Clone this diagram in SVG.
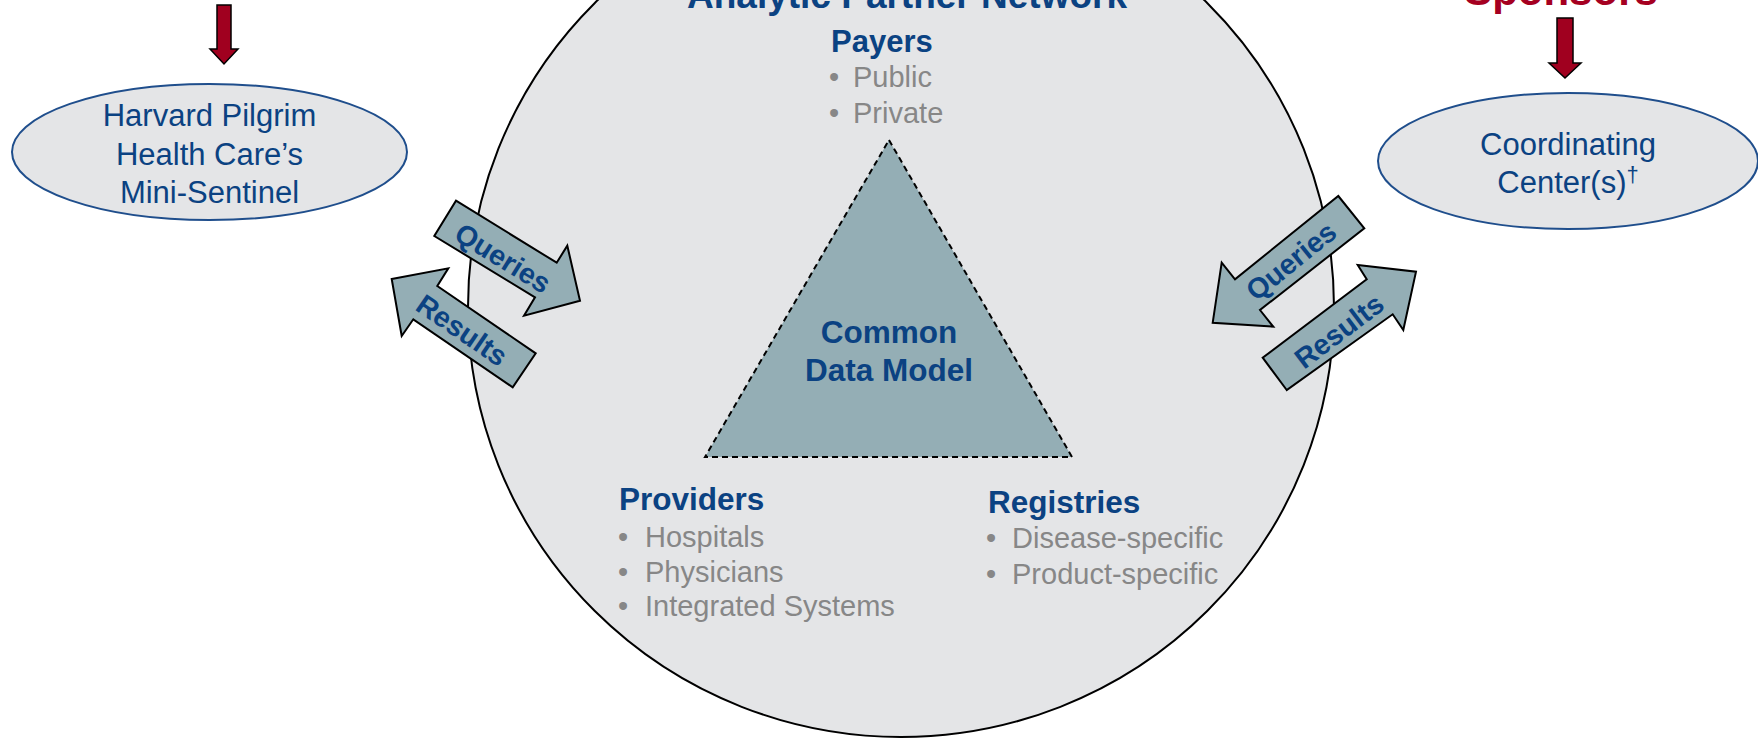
<svg xmlns="http://www.w3.org/2000/svg" width="1758" height="738" viewBox="0 0 1758 738">
<style>
.blue{fill:#0B4282;font-family:"Liberation Sans",Arial,sans-serif}
.bold{font-weight:bold}
.gray{fill:#878787;font-family:"Liberation Sans",Arial,sans-serif;font-size:29px}
.blk{fill:#94AEB5;stroke:#000;stroke-width:2;stroke-linejoin:miter}
.red{fill:#A0001F;stroke:#000;stroke-width:1.5}
.oval{fill:#E4E5E7;stroke:#1F4E8C;stroke-width:2}
.lbl{font-family:"Liberation Sans",Arial,sans-serif;font-weight:bold;font-size:28.5px;fill:#0B4282;text-anchor:middle}
</style>
<rect width="1758" height="738" fill="#FFFFFF"/>
<g id="network">
<ellipse cx="901" cy="307" rx="433" ry="430" fill="#E4E5E7" stroke="#000" stroke-width="2"/>
<text class="blue bold" x="907" y="8" font-size="37" text-anchor="middle">Analytic Partner Network</text>
</g>
<g id="cdm">
<polygon points="889,140 1072,457 705,457" fill="#94AEB5" stroke="#000" stroke-width="2" stroke-dasharray="6,4"/>
<text class="blue bold" x="889" y="343" font-size="31.5" text-anchor="middle">Common</text>
<text class="blue bold" x="889" y="381" font-size="31.5" text-anchor="middle">Data Model</text>
</g>
<g id="payers">
<text class="blue bold" x="831" y="52" font-size="31">Payers</text>
<text class="gray" x="829" y="87">•</text><text class="gray" x="853" y="87">Public</text>
<text class="gray" x="829" y="123">•</text><text class="gray" x="853" y="123">Private</text>
</g>
<g id="providers">
<text class="blue bold" x="619" y="510" font-size="31.5">Providers</text>
<text class="gray" x="618" y="547">•</text><text class="gray" x="645" y="547">Hospitals</text>
<text class="gray" x="618" y="582">•</text><text class="gray" x="645" y="582">Physicians</text>
<text class="gray" x="618" y="616">•</text><text class="gray" x="645" y="616">Integrated Systems</text>
</g>
<g id="registries">
<text class="blue bold" x="988" y="513" font-size="31.5">Registries</text>
<text class="gray" x="986" y="548">•</text><text class="gray" x="1012" y="548">Disease-specific</text>
<text class="gray" x="986" y="584">•</text><text class="gray" x="1012" y="584">Product-specific</text>
</g>
<g id="mini-sentinel">
<ellipse class="oval" cx="209.5" cy="152" rx="197.5" ry="68"/>
<text class="blue" x="209.5" y="126" font-size="31" text-anchor="middle">Harvard Pilgrim</text>
<text class="blue" x="209.5" y="165" font-size="31" text-anchor="middle">Health Care’s</text>
<text class="blue" x="209.5" y="203" font-size="31" text-anchor="middle">Mini-Sentinel</text>
</g>
<g id="coordinating">
<ellipse class="oval" cx="1568" cy="161" rx="190" ry="68"/>
<text class="blue" x="1568" y="155" font-size="31" text-anchor="middle">Coordinating</text>
<text class="blue" x="1568" y="193" font-size="31" text-anchor="middle">Center(s)<tspan font-size="22" dy="-11">†</tspan></text>
</g>
<g id="sponsors">
<text x="1561" y="5" font-family="'Liberation Sans',Arial,sans-serif" font-weight="bold" font-size="42" fill="#A50021" text-anchor="middle">Sponsors</text>
</g>
<g id="connectors">
<polygon class="red" points="217,5 231,5 231,49 238,49 224,64 210,49 217,49"/>
<polygon class="red" points="1557,18 1573,18 1573,63 1581,63 1565,78 1549,63 1557,63"/>
<polygon class="blk" points="456,200.7 556.7,262.7 567.3,245.7 580,300.7 524,315.7 535,297.3 434.3,236"/>
<text class="lbl" transform="translate(503,258) rotate(31.6)" y="10">Queries</text>
<polygon class="blk" points="391.7,279 448.3,268.3 437.3,286 535.7,353.3 512.7,387.3 413.3,319.3 401.7,336"/>
<text class="lbl" transform="translate(462,330) rotate(34.4)" y="10">Results</text>
<polygon class="blk" points="1338.3,196 1364.3,228.3 1260,310 1273.3,326.7 1212.7,322.7 1221.7,262.7 1235,279.3"/>
<text class="lbl" transform="translate(1291,261) rotate(-38.9)" y="10">Queries</text>
<polygon class="blk" points="1286.7,390 1262.7,357.7 1366.7,279.3 1357.7,265 1416,271.7 1403.3,330 1392.7,314.3"/>
<text class="lbl" transform="translate(1339,331) rotate(-37)" y="10">Results</text>
</g>
</svg>
